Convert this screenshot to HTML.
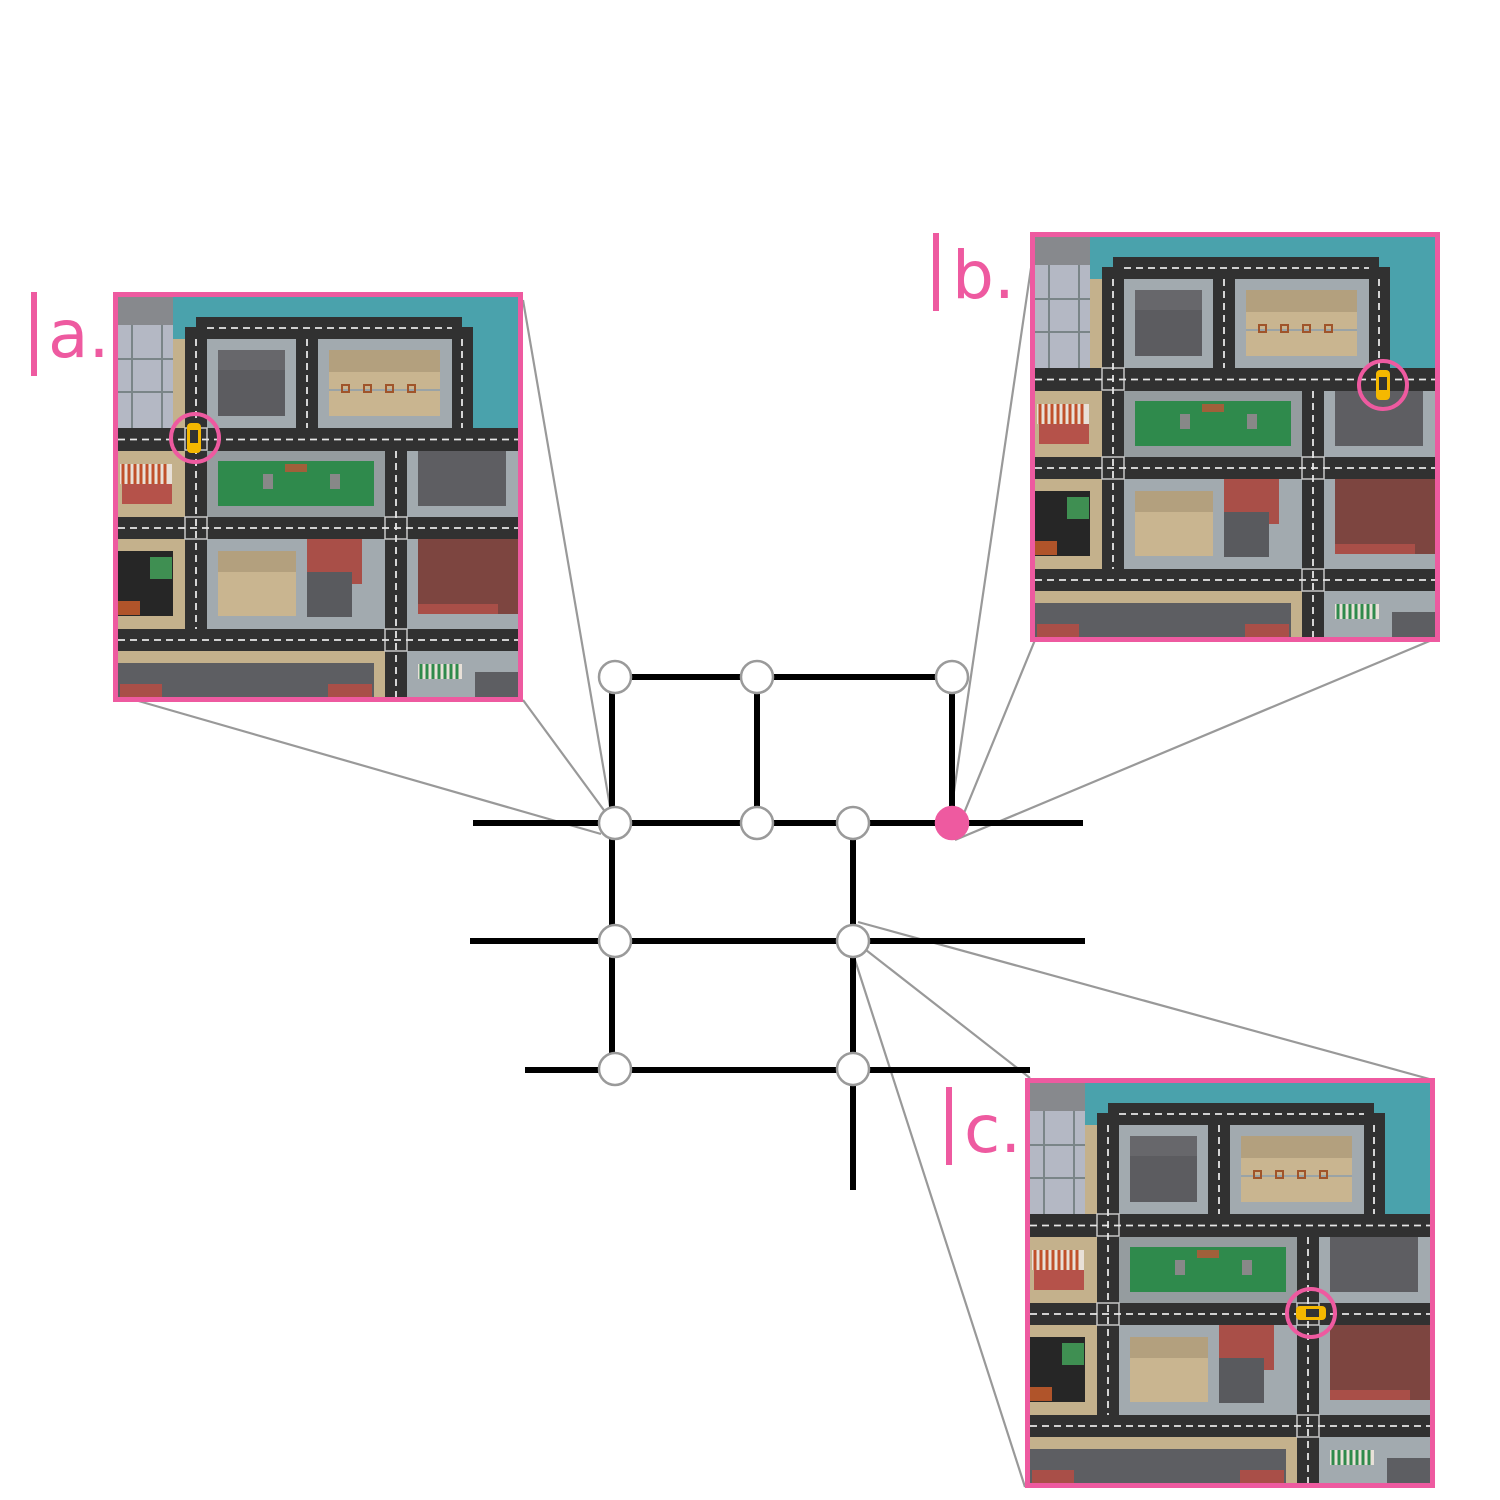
<!DOCTYPE html>
<html><head><meta charset="utf-8">
<style>html,body{margin:0;padding:0;background:#fff}svg{display:block}</style>
</head><body>
<svg width="1500" height="1500" viewBox="0 0 1500 1500" xmlns="http://www.w3.org/2000/svg">
<defs>
<symbol id="map" viewBox="0 0 415 415">
  <rect x="8" y="8" width="400" height="400" fill="#9ca4a9"/>
  <rect x="63" y="8" width="345" height="20" fill="#4aa2ac"/>
  <rect x="352" y="8" width="56" height="131" fill="#4aa2ac"/>
  <rect x="63" y="8" width="23" height="42" fill="#4aa2ac"/>
  <rect x="8" y="8" width="55" height="28" fill="#87898d"/>
  <rect x="8" y="36" width="55" height="103" fill="#b4b8c4"/>
  <path d="M22 36V139M52 36V139M8 70H63M8 103H63" stroke="#7a8588" stroke-width="2"/>
  <rect x="63" y="50" width="12" height="89" fill="#c4b18c"/>
  <rect x="8" y="162" width="67" height="66" fill="#c4b18c"/>
  <rect x="10" y="175" width="52" height="20" fill="#e8e0d8"/>
  <path d="M13 175V195M19 175V195M25 175V195M31 175V195M37 175V195M43 175V195M49 175V195M55 175V195" stroke="#c0502a" stroke-width="3"/>
  <rect x="12" y="195" width="50" height="20" fill="#b5524a"/>
  <rect x="8" y="250" width="67" height="90" fill="#c4b18c"/>
  <rect x="8" y="262" width="55" height="65" fill="#262626"/>
  <rect x="40" y="268" width="22" height="22" fill="#3f8f52"/>
  <rect x="8" y="312" width="22" height="14" fill="#b0542a"/>
  <!-- dark roads -->
  <rect x="75" y="38" width="288" height="101" fill="#313131"/>
  <rect x="86" y="28" width="266" height="12" fill="#313131"/>
  <rect x="8" y="139" width="400" height="23" fill="#313131"/>
  <rect x="8" y="228" width="400" height="22" fill="#313131"/>
  <rect x="8" y="340" width="400" height="22" fill="#313131"/>
  <rect x="75" y="38" width="22" height="324" fill="#313131"/>
  <rect x="275" y="162" width="22" height="246" fill="#313131"/>
  <!-- top blocks -->
  <rect x="97" y="50" width="89" height="89" fill="#a2aaaf"/>
  <rect x="108" y="61" width="67" height="66" fill="#5c5c60"/>
  <rect x="108" y="61" width="67" height="20" fill="#67676b"/>
  <rect x="208" y="50" width="134" height="89" fill="#a2aaaf"/>
  <rect x="219" y="61" width="111" height="66" fill="#c9b590"/>
  <rect x="219" y="61" width="111" height="22" fill="#b3a07e"/>
  <path d="M219 101H330" stroke="#9aa3a6" stroke-width="2"/>
  <g fill="none" stroke="#a0542a" stroke-width="2"><rect x="232" y="96" width="7" height="7"/><rect x="254" y="96" width="7" height="7"/><rect x="276" y="96" width="7" height="7"/><rect x="298" y="96" width="7" height="7"/></g>
  <!-- middle row -->
  <rect x="97" y="162" width="178" height="66" fill="#959c9f"/>
  <rect x="108" y="172" width="156" height="45" fill="#2f8a4c"/>
  <rect x="175" y="175" width="22" height="8" fill="#a0603a"/>
  <rect x="153" y="185" width="10" height="15" fill="#888"/>
  <rect x="220" y="185" width="10" height="15" fill="#888"/>
  <rect x="297" y="162" width="111" height="66" fill="#a2aaaf"/>
  <rect x="308" y="162" width="88" height="55" fill="#5e5e62"/>
  <!-- lower row -->
  <rect x="97" y="250" width="178" height="90" fill="#a2aaaf"/>
  <rect x="108" y="262" width="78" height="65" fill="#c9b590"/>
  <rect x="108" y="262" width="78" height="21" fill="#b3a07e"/>
  <rect x="197" y="250" width="55" height="45" fill="#a94f48"/>
  <rect x="197" y="283" width="45" height="45" fill="#595a5e"/>
  <rect x="297" y="250" width="111" height="90" fill="#a2aaaf"/>
  <rect x="308" y="250" width="100" height="75" fill="#7d4540"/>
  <rect x="308" y="315" width="80" height="10" fill="#a94f48"/>
  <!-- bottom -->
  <rect x="8" y="362" width="267" height="46" fill="#c4b18c"/>
  <rect x="8" y="374" width="256" height="34" fill="#5d5e62"/>
  <rect x="10" y="395" width="42" height="13" fill="#a94f48"/>
  <rect x="218" y="395" width="44" height="13" fill="#a94f48"/>
  <rect x="297" y="362" width="111" height="46" fill="#a2aaaf"/>
  <rect x="308" y="375" width="44" height="15" fill="#e8e0d8"/>
  <path d="M311 375V390M317 375V390M323 375V390M329 375V390M335 375V390M341 375V390M347 375V390" stroke="#2f8a4c" stroke-width="3"/>
  <rect x="365" y="383" width="43" height="25" fill="#5d5e62"/>
  <!-- intersections -->
  <g fill="none" stroke="#c8c8c8" stroke-width="1.5">
    <rect x="75" y="228" width="22" height="22"/><rect x="275" y="228" width="22" height="22"/><rect x="275" y="340" width="22" height="22"/><rect x="75" y="139" width="22" height="22"/>
  </g>
  <!-- dashes -->
  <g stroke="#e6e6e6" stroke-width="1.8" stroke-dasharray="7 5" fill="none">
    <path d="M97 39H342"/><path d="M8 150.5H408"/><path d="M8 239H408"/><path d="M8 351H408"/>
    <path d="M86 50V340"/><path d="M197 50V139"/><path d="M352 50V139"/><path d="M286 162V408"/>
  </g>
  <rect x="5.5" y="5.5" width="405" height="405" fill="none" stroke="#ee5aa0" stroke-width="5"/>
</symbol>
<g id="car">
  <rect x="-7" y="-15" width="14" height="30" rx="4" fill="#f5b800"/>
  <rect x="-4" y="-8" width="8" height="13" fill="#333"/>
</g>
</defs>

<!-- connector lines -->
<g stroke="#999" stroke-width="2.2" fill="none">
  <path d="M523 300L612 818M523 700L606 813M135 700L601 834"/>
  <path d="M1031 268L952 805M1035 640L962 818M1432 640L955 840"/>
  <path d="M858 922L1433 1080M866 950L1030 1078M855 960L1025 1487"/>
</g>

<!-- graph edges -->
<g stroke="#000" stroke-width="6" fill="none">
  <path d="M615 677H952"/>
  <path d="M473 823H1083"/>
  <path d="M470 941H1085"/>
  <path d="M525 1070H1030"/>
  <path d="M612 677V1070"/>
  <path d="M757 677V823"/>
  <path d="M952 677V823"/>
  <path d="M853 823V1190"/>
</g>

<!-- nodes -->
<g stroke="#9a9a9a" stroke-width="2.5" fill="#fff">
  <circle cx="615" cy="677" r="16"/>
  <circle cx="757" cy="677" r="16"/>
  <circle cx="952" cy="677" r="16"/>
  <circle cx="615" cy="823" r="16"/>
  <circle cx="757" cy="823" r="16"/>
  <circle cx="853" cy="823" r="16"/>
  <circle cx="952" cy="823" r="16" fill="#ee5aa0" stroke="#ee5aa0"/>
  <circle cx="615" cy="941" r="16"/>
  <circle cx="853" cy="941" r="16"/>
  <circle cx="615" cy="1069" r="16"/>
  <circle cx="853" cy="1069" r="16"/>
</g>

<!-- panels -->
<use href="#map" x="110" y="289" width="415" height="415"/>
<use href="#map" x="1027" y="229" width="415" height="415"/>
<use href="#map" x="1022" y="1075" width="415" height="415"/>

<g><use href="#car" transform="translate(194,438)"/></g>
<circle cx="195" cy="438" r="24" fill="none" stroke="#ee5aa0" stroke-width="4"/>
<g><use href="#car" transform="translate(1383,385)"/></g>
<circle cx="1383" cy="385" r="24" fill="none" stroke="#ee5aa0" stroke-width="4"/>
<g><use href="#car" transform="translate(1311,1313) rotate(90)"/></g>
<circle cx="1311" cy="1313" r="24" fill="none" stroke="#ee5aa0" stroke-width="4"/>

<!-- labels -->
<g fill="#ee5aa0" font-family="'DejaVu Sans','Liberation Sans',sans-serif" font-size="66">
  <rect x="31" y="292" width="6" height="84"/>
  <text x="48" y="357">a.</text>
  <rect x="933" y="233" width="6" height="78"/>
  <text x="952" y="298">b.</text>
  <rect x="946" y="1087" width="6" height="78"/>
  <text x="964" y="1152">c.</text>
</g>
</svg>
</body></html>
